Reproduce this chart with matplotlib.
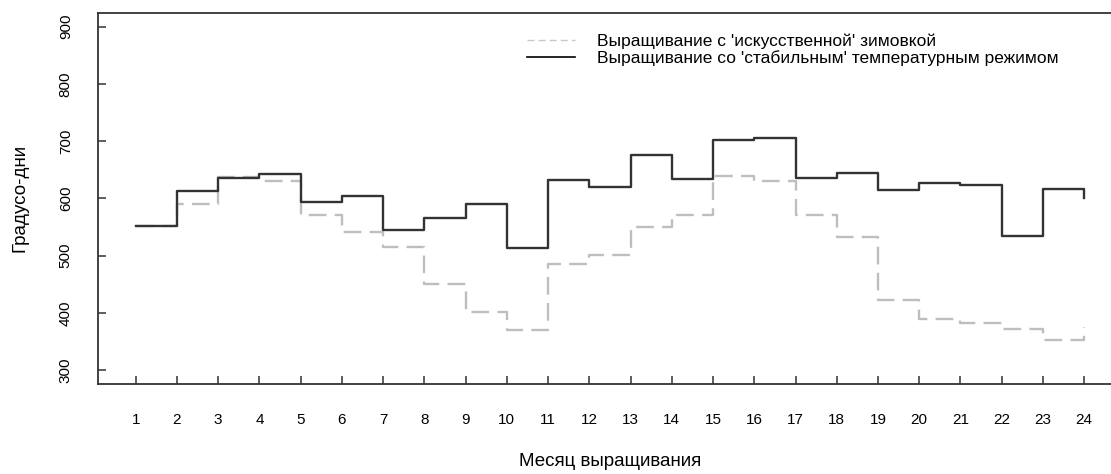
import matplotlib.pyplot as plt
from matplotlib.lines import Line2D

plt.rcParams['font.family'] = ['Liberation Sans', 'DejaVu Sans']

months = list(range(1, 25))
artificial = [551, 590, 637, 631, 571, 542, 515, 451, 401, 370, 485, 501,
              550, 571, 639, 630, 571, 532, 422, 390, 383, 372, 352, 375]
stable = [551, 613, 636, 643, 593, 605, 545, 565, 591, 513, 632, 620,
          675, 634, 702, 705, 635, 645, 614, 627, 623, 535, 617, 600]
yticks = [300, 400, 500, 600, 700, 800, 900]

lbl_art = "Выращивание с 'искусственной' зимовкой"
lbl_stab = "Выращивание со 'стабильным' температурным режимом"

fig = plt.figure(figsize=(11.11, 4.74), dpi=100)
ax = fig.add_axes([0.088, 0.19, 0.922, 0.783])

ax.plot(months, artificial, drawstyle='steps-post', color='#bebebe',
        lw=1.7, linestyle=(0, (7.5, 3.5)))
ax.plot(months, stable, drawstyle='steps-post', color='#333333', lw=1.7)

ax.set_xlim(0.08, 24.92)
ax.set_ylim(276, 924)
ax.set_xticks(months)
ax.set_yticks(yticks)
ax.set_yticklabels([str(v) for v in yticks], rotation=90, va='center')
ax.tick_params(direction='in', length=5.5, width=1.1, color='#333333',
               labelsize=11)
ax.tick_params(axis='x', pad=21)
ax.tick_params(axis='y', pad=18)
for s in ax.spines.values():
    s.set_linewidth(1.3)
    s.set_color('#333333')

ax.set_xlabel('Месяц выращивания', fontsize=13.5, labelpad=19)
ax.set_ylabel('Градусо-дни', fontsize=13.5, labelpad=22)

handles = [Line2D([], [], color='#c8c8c8', lw=1, linestyle=(0, (5, 3))),
           Line2D([], [], color='black', lw=1.2)]
ax.legend(handles, [lbl_art, lbl_stab], loc='upper left',
          bbox_to_anchor=(0.474, 0.93), bbox_transform=fig.transFigure,
          frameon=False, fontsize=12.5, handlelength=2.8, handletextpad=1.27,
          labelspacing=0.08, borderpad=0, borderaxespad=0)

fig.savefig('out.png', dpi=100)
